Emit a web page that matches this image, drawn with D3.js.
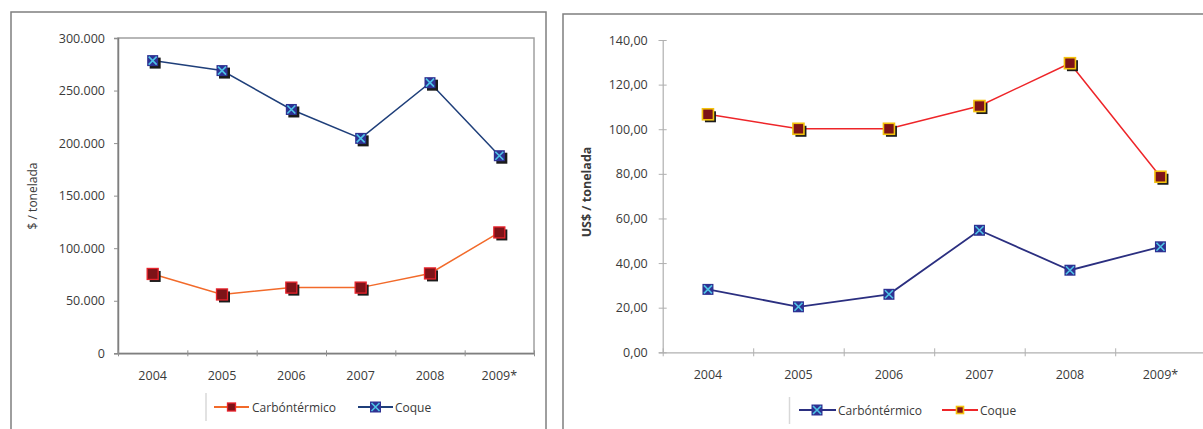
<!DOCTYPE html>
<html><head><meta charset="utf-8">
<script src="https://cdn.jsdelivr.net/npm/d3@7"></script>
<style>
html,body{margin:0;padding:0;background:#fff;}
svg{display:block;}
text{font-family:"Open Sans",sans-serif;fill:#3a3a3a;}
</style></head><body>
<svg id="c" width="1203" height="429"></svg>
<script>
const categories = ["2004","2005","2006","2007","2008","2009*"];
const leftCarbon = [75500, 56000, 62500, 62500, 76000, 115000];
const leftCoque = [278500, 269000, 232000, 204500, 257500, 188000];
const leftTicks = [0, 50000, 100000, 150000, 200000, 250000, 300000];
const rightCarbon = [28.2, 20.4, 26.0, 54.7, 36.8, 47.3];
const rightCoque = [106.7, 100.2, 100.2, 110.4, 129.6, 78.7];
const rightTicks = [0, 20, 40, 60, 80, 100, 120, 140];
const seriesNames = ["Carbóntérmico", "Coque"];

const svg = d3.select("#c");
const fmtL = v => v === 0 ? "0" : d3.format(",")(v).replace(/,/g, ".");
const fmtR = v => d3.format(".2f")(v).replace(".", ",");

function marker(g, type, x, y, s, shadow) {
  const h = s / 2;
  if (shadow) g.append("rect").attr("x", x - h + 2.5).attr("y", y - h + 2.5).attr("width", s).attr("height", s).attr("fill", "#1b1b1b");
  if (type === "redL") {
    g.append("rect").attr("x", x - h).attr("y", y - h).attr("width", s).attr("height", s).attr("fill", "#7d1318").attr("stroke", "#e8232b").attr("stroke-width", 1.3);
  } else if (type === "redR") {
    g.append("rect").attr("x", x - h).attr("y", y - h).attr("width", s).attr("height", s).attr("fill", "#7d1318").attr("stroke", "#f4c20d").attr("stroke-width", 1.6);
  } else {
    g.append("rect").attr("x", x - h).attr("y", y - h).attr("width", s).attr("height", s).attr("fill", "#2e3192");
    const k = h - 1.5;
    g.append("path").attr("d", `M${x-k},${y-k}L${x+k},${y+k}M${x-k},${y+k}L${x+k},${y-k}`).attr("stroke", "#4fc4e6").attr("stroke-width", 1.6);
  }
}

// Outer frames
svg.append("rect").attr("x", 11).attr("y", 12).attr("width", 535).attr("height", 440).attr("fill", "none").attr("stroke", "#7f7f7f").attr("stroke-width", 1.5);
svg.append("rect").attr("x", 563).attr("y", 14).attr("width", 660).attr("height", 440).attr("fill", "none").attr("stroke", "#7f7f7f").attr("stroke-width", 1.5);

// ---------- LEFT CHART ----------
{
  const L = 118, R = 534, T = 38, B = 353.3;
  const g = svg.append("g");
  const x = d3.scaleBand().domain(categories).range([L, R]).padding(0);
  const xe = d3.scaleLinear().domain([0, categories.length]).range([L, R]);
  const y = d3.scaleLinear().domain([0, 300000]).range([B, T]);

  // plot border
  g.append("rect").attr("x", L).attr("y", T).attr("width", R - L).attr("height", B - T).attr("fill", "none").attr("stroke", "#a0a0a0").attr("stroke-width", 1.5);

  const ya = g.append("g").attr("transform", `translate(${L},0)`).call(d3.axisLeft(y).tickValues(leftTicks).tickFormat(fmtL).tickSize(4).tickPadding(9));
  ya.select(".domain").attr("stroke", "#7f7f7f").attr("stroke-width", 1.5);
  ya.selectAll(".tick line").attr("stroke", "#909090");
  ya.selectAll("text").attr("font-size", 12.5).attr("fill", "#3a3a3a");

  const xt = g.append("g").attr("transform", `translate(0,${B})`).call(d3.axisBottom(xe).tickValues(d3.range(0, 7)).tickFormat("").tickSizeInner(3).tickSizeOuter(0));
  xt.select(".domain").attr("stroke", "#7f7f7f").attr("stroke-width", 1.5);
  xt.selectAll(".tick line").attr("stroke", "#909090").attr("y1", -3);
  const xl = g.append("g").attr("transform", `translate(0,${B})`).call(d3.axisBottom(x).tickSize(0).tickPadding(18));
  xl.select(".domain").remove();
  xl.selectAll("text").attr("font-size", 12.5).attr("fill", "#3a3a3a");

  g.append("text").attr("transform", `translate(37,196) rotate(-90)`).attr("text-anchor", "middle").attr("font-size", 12).text("$ / tonelada");

  const line = d3.line().x((d, i) => x(categories[i]) + x.bandwidth() / 2).y(d => y(d));
  g.append("path").datum(leftCarbon).attr("d", line).attr("fill", "none").attr("stroke", "#f26a2a").attr("stroke-width", 1.5);
  g.append("path").datum(leftCoque).attr("d", line).attr("fill", "none").attr("stroke", "#1f3f7a").attr("stroke-width", 1.5);
  leftCarbon.forEach((v, i) => marker(g, "redL", x(categories[i]) + x.bandwidth() / 2, y(v), 11, true));
  leftCoque.forEach((v, i) => marker(g, "blue", x(categories[i]) + x.bandwidth() / 2, y(v), 11, true));

  // legend
  const ly = 407;
  g.append("line").attr("x1", 206).attr("x2", 206).attr("y1", 393).attr("y2", 421).attr("stroke", "#d8d8d8").attr("stroke-width", 1.5);
  g.append("line").attr("x1", 214).attr("x2", 249).attr("y1", ly).attr("y2", ly).attr("stroke", "#f26a2a").attr("stroke-width", 2);
  marker(g, "redL", 231.5, ly, 8, false);
  g.append("text").attr("x", 252).attr("y", ly + 4.5).attr("font-size", 12).text(seriesNames[0]);
  g.append("line").attr("x1", 358).attr("x2", 393).attr("y1", ly).attr("y2", ly).attr("stroke", "#1f3f7a").attr("stroke-width", 2);
  marker(g, "blue", 375.5, ly, 11, false);
  g.append("text").attr("x", 395).attr("y", ly + 4.5).attr("font-size", 12).text(seriesNames[1]);
}

// ---------- RIGHT CHART ----------
{
  const L = 662.7, R = 1205.7, T = 40, B = 352.3;
  const g = svg.append("g");
  const x = d3.scaleBand().domain(categories).range([L, R]).padding(0);
  const xe = d3.scaleLinear().domain([0, categories.length]).range([L, R]);
  const y = d3.scaleLinear().domain([0, 140]).range([B, T]);

  const ya = g.append("g").attr("transform", `translate(${L},0)`).call(d3.axisLeft(y).tickValues(rightTicks).tickFormat(fmtR).tickSize(4).tickPadding(11));
  ya.select(".domain").attr("stroke", "#b0b0b0").attr("stroke-width", 1.2);
  ya.selectAll(".tick line").attr("stroke", "#b0b0b0").attr("x2", 4).attr("x1", -4);
  ya.selectAll("text").attr("font-size", 12.5).attr("fill", "#3a3a3a");

  const xt = g.append("g").attr("transform", `translate(0,${B})`).call(d3.axisBottom(xe).tickValues(d3.range(0, 7)).tickFormat("").tickSizeInner(4).tickSizeOuter(0));
  xt.select(".domain").attr("stroke", "#b0b0b0").attr("stroke-width", 1.2);
  xt.selectAll(".tick line").attr("stroke", "#b0b0b0").attr("y1", -4);
  const xl = g.append("g").attr("transform", `translate(0,${B})`).call(d3.axisBottom(x).tickSize(0).tickPadding(18));
  xl.select(".domain").remove();
  xl.selectAll("text").attr("font-size", 12.5).attr("fill", "#3a3a3a");

  g.append("text").attr("transform", `translate(591,192) rotate(-90)`).attr("text-anchor", "middle").attr("font-size", 12.5).attr("font-weight", "bold").text("US$ / tonelada");

  const line = d3.line().x((d, i) => x(categories[i]) + x.bandwidth() / 2).y(d => y(d));
  g.append("path").datum(rightCoque).attr("d", line).attr("fill", "none").attr("stroke", "#ee2529").attr("stroke-width", 1.5);
  g.append("path").datum(rightCarbon).attr("d", line).attr("fill", "none").attr("stroke", "#2b2f80").attr("stroke-width", 1.8);
  rightCoque.forEach((v, i) => marker(g, "redR", x(categories[i]) + x.bandwidth() / 2, y(v), 11, true));
  rightCarbon.forEach((v, i) => marker(g, "blue", x(categories[i]) + x.bandwidth() / 2, y(v), 11, false));

  const ly = 410;
  g.append("line").attr("x1", 789.5).attr("x2", 789.5).attr("y1", 397).attr("y2", 424).attr("stroke", "#d8d8d8").attr("stroke-width", 1.5);
  g.append("line").attr("x1", 799).attr("x2", 836).attr("y1", ly).attr("y2", ly).attr("stroke", "#2b2f80").attr("stroke-width", 2);
  marker(g, "blue", 817, ly, 11, false);
  g.append("text").attr("x", 838).attr("y", ly + 4.5).attr("font-size", 12).text(seriesNames[0]);
  g.append("line").attr("x1", 942).attr("x2", 978).attr("y1", ly).attr("y2", ly).attr("stroke", "#ee2529").attr("stroke-width", 2);
  marker(g, "redR", 960, ly, 7, false);
  g.append("text").attr("x", 980).attr("y", ly + 4.5).attr("font-size", 12).text(seriesNames[1]);
}
</script>
</body></html>
